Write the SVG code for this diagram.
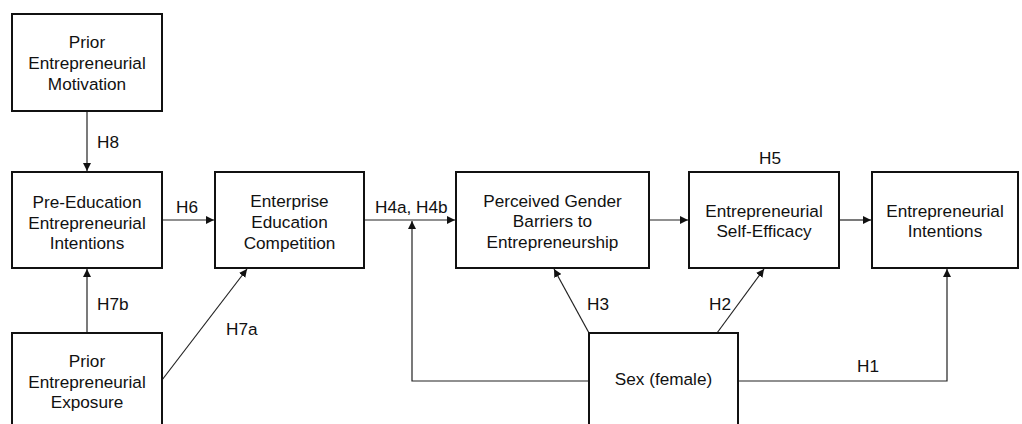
<svg xmlns="http://www.w3.org/2000/svg" width="1022" height="424" viewBox="0 0 1022 424">
  <style>
    .box { fill: #fff; stroke: #111; stroke-width: 2; }
    .t { font-family: "Liberation Sans", Arial, sans-serif; font-size: 17.2px; fill: #111; text-anchor: middle; }
    .lbl { font-family: "Liberation Sans", Arial, sans-serif; font-size: 17.2px; fill: #111; }
    .edge { fill: none; stroke: #222; stroke-width: 1.2; }
  </style>
  <defs>
    <marker id="arrow" viewBox="0 0 10 10" refX="10" refY="5" markerWidth="8" markerHeight="8" markerUnits="userSpaceOnUse" orient="auto">
      <path d="M0,0 L10,5 L0,10 z" fill="#111"/>
    </marker>
  </defs>
  <rect width="1022" height="424" fill="#fff"/>

  <g id="connectors">
    <!-- H8 -->
    <line class="edge" x1="87" y1="111" x2="87" y2="171" marker-end="url(#arrow)"/>
    <text class="lbl" x="97" y="148">H8</text>
    <!-- H6 -->
    <line class="edge" x1="162" y1="220" x2="214" y2="220" marker-end="url(#arrow)"/>
    <text class="lbl" x="176" y="213">H6</text>
    <!-- H7b -->
    <line class="edge" x1="87" y1="333" x2="87" y2="269" marker-end="url(#arrow)"/>
    <text class="lbl" x="97" y="310">H7b</text>
    <!-- H7a -->
    <line class="edge" x1="162" y1="380" x2="247" y2="269" marker-end="url(#arrow)"/>
    <text class="lbl" x="226" y="335">H7a</text>
    <!-- H4a, H4b -->
    <line class="edge" x1="364" y1="220" x2="455" y2="220" marker-end="url(#arrow)"/>
    <text class="lbl" x="375" y="213">H4a, H4b</text>
    <!-- Sex moderating path -->
    <polyline class="edge" points="589,381 412,381 412,221" marker-end="url(#arrow)"/>
    <!-- H5 -->
    <line class="edge" x1="649" y1="220" x2="688" y2="220" marker-end="url(#arrow)"/>
    <text class="lbl" x="759" y="164">H5</text>
    <!-- Self-Efficacy to Intentions -->
    <line class="edge" x1="839" y1="220" x2="871" y2="220" marker-end="url(#arrow)"/>
    <!-- H3 -->
    <line class="edge" x1="589" y1="333" x2="554" y2="269" marker-end="url(#arrow)"/>
    <text class="lbl" x="587" y="310">H3</text>
    <!-- H2 -->
    <line class="edge" x1="717" y1="333" x2="764" y2="269" marker-end="url(#arrow)"/>
    <text class="lbl" x="709" y="310">H2</text>
    <!-- H1 -->
    <polyline class="edge" points="738,381 947,381 947,269" marker-end="url(#arrow)"/>
    <text class="lbl" x="857" y="372">H1</text>
  </g>

  <g id="prior-motivation">
    <rect class="box" x="12" y="14" width="150" height="97"/>
    <text class="t" x="87" y="48">Prior</text>
    <text class="t" x="87" y="69">Entrepreneurial</text>
    <text class="t" x="87" y="90">Motivation</text>
  </g>

  <g id="pre-education-intentions">
    <rect class="box" x="12" y="172" width="150" height="96"/>
    <text class="t" x="87" y="208">Pre-Education</text>
    <text class="t" x="87" y="229">Entrepreneurial</text>
    <text class="t" x="87" y="249">Intentions</text>
  </g>

  <g id="enterprise-education">
    <rect class="box" x="215" y="172" width="149" height="96"/>
    <text class="t" x="289.5" y="207">Enterprise</text>
    <text class="t" x="289.5" y="228">Education</text>
    <text class="t" x="289.5" y="249">Competition</text>
  </g>

  <g id="gender-barriers">
    <rect class="box" x="456" y="172" width="193" height="96"/>
    <text class="t" x="552.5" y="207">Perceived Gender</text>
    <text class="t" x="552.5" y="227">Barriers to</text>
    <text class="t" x="552.5" y="248">Entrepreneurship</text>
  </g>

  <g id="self-efficacy">
    <rect class="box" x="689" y="172" width="150" height="96"/>
    <text class="t" x="764" y="217">Entrepreneurial</text>
    <text class="t" x="764" y="237">Self-Efficacy</text>
  </g>

  <g id="intentions">
    <rect class="box" x="872" y="172" width="146" height="96"/>
    <text class="t" x="945" y="217">Entrepreneurial</text>
    <text class="t" x="945" y="237">Intentions</text>
  </g>

  <g id="prior-exposure">
    <rect class="box" x="12" y="333" width="150" height="110"/>
    <text class="t" x="87" y="367">Prior</text>
    <text class="t" x="87" y="388">Entrepreneurial</text>
    <text class="t" x="87" y="408">Exposure</text>
  </g>

  <g id="sex">
    <rect class="box" x="589" y="333" width="149" height="110"/>
    <text class="t" x="663.5" y="385">Sex (female)</text>
  </g>
</svg>
